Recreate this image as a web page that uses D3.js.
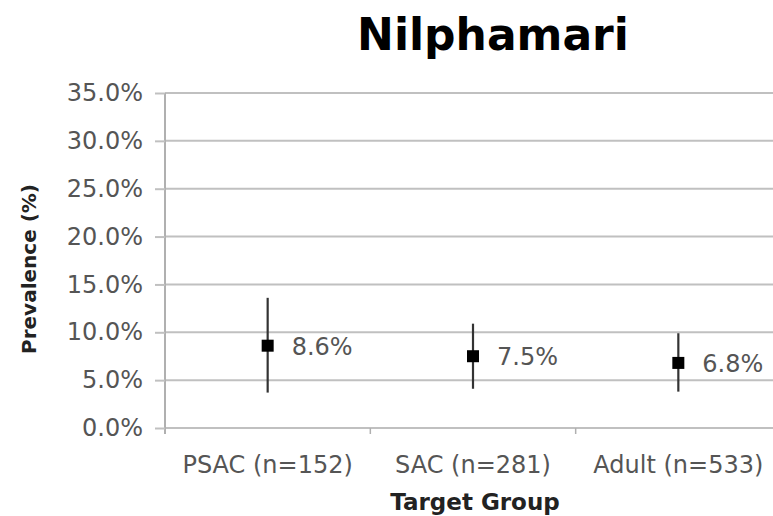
<!DOCTYPE html>
<html>
<head>
    <meta charset="UTF-8">
    <title>Nilphamari</title>
    <script src="https://d3js.org/d3.v7.min.js"></script>
    <style>
        body { margin: 0; background: #fff; }
        svg { display: block; overflow: hidden; }
        text { font-family: "DejaVu Sans", sans-serif; }
    </style>
</head>
<body>
    <div id="chart"></div>

    <script type="text/javascript">
        // chart data
        const groups = ["PSAC (n=152)", "SAC (n=281)", "Adult (n=533)"];
        const prevalence = [0.086, 0.075, 0.068];
        const lower = [0.037, 0.041, 0.038];
        const upper = [0.136, 0.109, 0.099];
        const labels = ["8.6%", "7.5%", "6.8%"];
        const yTicks = [0, 0.05, 0.10, 0.15, 0.20, 0.25, 0.30, 0.35];

        const width = 773, height = 516;
        const margin = { top: 93, right: -8, bottom: 88, left: 165 };

        const svg = d3.select("#chart")
            .append("svg")
            .attr("width", width)
            .attr("height", height);

        const x = d3.scaleBand()
            .domain(groups)
            .range([margin.left, width - margin.right]);

        const y = d3.scaleLinear()
            .domain([0, 0.35])
            .range([height - margin.bottom, margin.top]);

        // gridlines
        svg.append("g")
            .selectAll("line")
            .data(yTicks)
            .join("line")
            .attr("x1", margin.left)
            .attr("x2", width)
            .attr("y1", d => y(d))
            .attr("y2", d => y(d))
            .attr("stroke", "#c0c0c0")
            .attr("stroke-width", 2);

        // y axis
        const yAxis = d3.axisLeft(y)
            .tickValues(yTicks)
            .tickSize(10)
            .tickPadding(12)
            .tickFormat(d3.format(".1%"));

        const gy = svg.append("g")
            .attr("transform", `translate(${margin.left},0)`)
            .call(yAxis);
        gy.select(".domain")
            .attr("stroke", "#b0b0b0")
            .attr("stroke-width", 2)
            .attr("d", `M0,${y(0.35)}V${y(0) + 6}`);
        gy.selectAll(".tick line")
            .attr("stroke", "#c0c0c0")
            .attr("stroke-width", 2);
        gy.selectAll(".tick text")
            .attr("fill", "#555")
            .style("font-size", "24px")
            .style("font-family", "DejaVu Sans");

        // x axis with ticks between categories
        const gx = svg.append("g");
        gx.selectAll("line.sep")
            .data(groups.slice(1))
            .join("line")
            .attr("class", "sep")
            .attr("x1", d => x(d))
            .attr("x2", d => x(d))
            .attr("y1", y(0))
            .attr("y2", y(0) + 6)
            .attr("stroke", "#b0b0b0")
            .attr("stroke-width", 1.5);

        gx.selectAll("text")
            .data(groups)
            .join("text")
            .attr("x", d => x(d) + x.bandwidth() / 2)
            .attr("y", y(0) + 45)
            .attr("text-anchor", "middle")
            .attr("fill", "#555")
            .style("font-size", "24px")
            .text(d => d);

        // error bars
        const pts = groups.map((g, i) => ({ g, v: prevalence[i], lo: lower[i], hi: upper[i], label: labels[i] }));
        const cx = d => x(d.g) + x.bandwidth() / 2;

        svg.append("g")
            .selectAll("line")
            .data(pts)
            .join("line")
            .attr("x1", cx)
            .attr("x2", cx)
            .attr("y1", d => y(d.hi))
            .attr("y2", d => y(d.lo))
            .attr("stroke", "#333")
            .attr("stroke-width", 2.2);

        // markers
        svg.append("g")
            .selectAll("rect")
            .data(pts)
            .join("rect")
            .attr("x", d => cx(d) - 6)
            .attr("y", d => y(d.v) - 6)
            .attr("width", 12)
            .attr("height", 12)
            .attr("fill", "#000");

        // data labels
        svg.append("g")
            .selectAll("text")
            .data(pts)
            .join("text")
            .attr("x", d => cx(d) + 24)
            .attr("y", d => y(d.v) + 9)
            .attr("fill", "#555")
            .style("font-size", "24px")
            .text(d => d.label);

        // title
        svg.append("text")
            .attr("x", 493)
            .attr("y", 50)
            .attr("text-anchor", "middle")
            .attr("fill", "#000")
            .style("font-size", "44px")
            .style("font-weight", "bold")
            .text("Nilphamari");

        // axis titles
        svg.append("text")
            .attr("x", 475)
            .attr("y", 510)
            .attr("text-anchor", "middle")
            .attr("fill", "#222")
            .style("font-size", "23px")
            .style("font-weight", "bold")
            .text("Target Group");

        svg.append("text")
            .attr("transform", "translate(36,269) rotate(-90)")
            .attr("text-anchor", "middle")
            .attr("fill", "#222")
            .style("font-size", "20px")
            .style("font-weight", "bold")
            .text("Prevalence (%)");
    </script>
</body>
</html>
